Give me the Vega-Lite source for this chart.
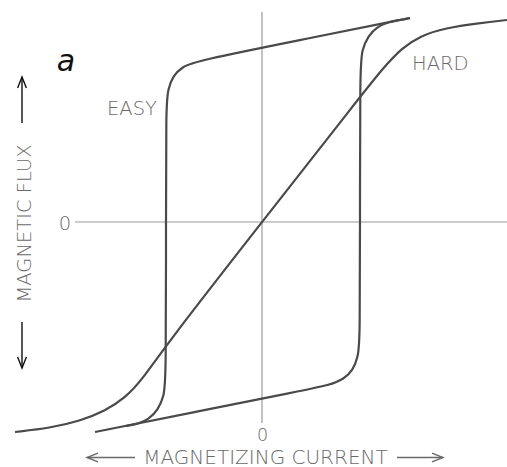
{
  "$schema": "https://vega.github.io/schema/vega-lite/v6.json",
  "width": 507,
  "height": 467,
  "autosize": {"type": "none"},
  "padding": 0,
  "background": "white",
  "config": {"view": {"stroke": null}, "axis": {"minExtent": 0, "maxExtent": 0, "domain": false, "ticks": false, "labels": false, "grid": false}},
  "datasets": {
    "curves": [
      {"branch": "easy-up", "i": 1, "current": -1.67, "flux": -2.10},
      {"branch": "easy-up", "i": 2, "current": -0.62, "flux": -1.89},
      {"branch": "easy-up", "i": 3, "current": 0.38, "flux": -1.69},
      {"branch": "easy-up", "i": 4, "current": 0.68, "flux": -1.63},
      {"branch": "easy-up", "i": 5, "current": 0.82, "flux": -1.57},
      {"branch": "easy-up", "i": 6, "current": 0.91, "flux": -1.48},
      {"branch": "easy-up", "i": 7, "current": 0.96, "flux": -1.35},
      {"branch": "easy-up", "i": 8, "current": 0.98, "flux": -1.18},
      {"branch": "easy-up", "i": 9, "current": 0.98, "flux": 0.0},
      {"branch": "easy-up", "i": 10, "current": 0.98, "flux": 1.55},
      {"branch": "easy-up", "i": 11, "current": 1.00, "flux": 1.72},
      {"branch": "easy-up", "i": 12, "current": 1.06, "flux": 1.86},
      {"branch": "easy-up", "i": 13, "current": 1.15, "flux": 1.95},
      {"branch": "easy-up", "i": 14, "current": 1.26, "flux": 2.00},
      {"branch": "easy-up", "i": 15, "current": 1.38, "flux": 2.02},
      {"branch": "easy-up", "i": 16, "current": 1.48, "flux": 2.04},
      {"branch": "easy-down", "i": 1, "current": 1.48, "flux": 2.04},
      {"branch": "easy-down", "i": 2, "current": 0.38, "flux": 1.82},
      {"branch": "easy-down", "i": 3, "current": -0.66, "flux": 1.61},
      {"branch": "easy-down", "i": 4, "current": -0.80, "flux": 1.55},
      {"branch": "easy-down", "i": 5, "current": -0.89, "flux": 1.46},
      {"branch": "easy-down", "i": 6, "current": -0.94, "flux": 1.33},
      {"branch": "easy-down", "i": 7, "current": -0.96, "flux": 1.16},
      {"branch": "easy-down", "i": 8, "current": -0.96, "flux": 0.0},
      {"branch": "easy-down", "i": 9, "current": -0.96, "flux": -1.57},
      {"branch": "easy-down", "i": 10, "current": -0.98, "flux": -1.74},
      {"branch": "easy-down", "i": 11, "current": -1.04, "flux": -1.88},
      {"branch": "easy-down", "i": 12, "current": -1.13, "flux": -1.97},
      {"branch": "easy-down", "i": 13, "current": -1.24, "flux": -2.02},
      {"branch": "easy-down", "i": 14, "current": -1.36, "flux": -2.04},
      {"branch": "hard", "i": 1, "current": -2.47, "flux": -2.10},
      {"branch": "hard", "i": 2, "current": -2.12, "flux": -2.06},
      {"branch": "hard", "i": 3, "current": -1.82, "flux": -1.99},
      {"branch": "hard", "i": 4, "current": -1.57, "flux": -1.89},
      {"branch": "hard", "i": 5, "current": -1.37, "flux": -1.76},
      {"branch": "hard", "i": 6, "current": -1.20, "flux": -1.58},
      {"branch": "hard", "i": 7, "current": -0.96, "flux": -1.23},
      {"branch": "hard", "i": 8, "current": 0.0, "flux": 0.0},
      {"branch": "hard", "i": 9, "current": 0.98, "flux": 1.25},
      {"branch": "hard", "i": 10, "current": 1.22, "flux": 1.55},
      {"branch": "hard", "i": 11, "current": 1.40, "flux": 1.74},
      {"branch": "hard", "i": 12, "current": 1.58, "flux": 1.86},
      {"branch": "hard", "i": 13, "current": 1.83, "flux": 1.94},
      {"branch": "hard", "i": 14, "current": 2.18, "flux": 1.99},
      {"branch": "hard", "i": 15, "current": 2.45, "flux": 2.02}
    ],
    "axes": [
      {"x1": 0, "x2": 0, "y1": 2.10, "y2": -2.01},
      {"x1": -1.87, "x2": 2.45, "y1": 0, "y2": 0}
    ],
    "arrows": [
      {"quantity": "current", "dir": "left", "tailX": -1.27, "tailY": -2.355, "headX": -1.75, "headY": -2.355},
      {"quantity": "current", "dir": "right", "tailX": 1.35, "tailY": -2.355, "headX": 1.81, "headY": -2.355},
      {"quantity": "flux", "dir": "up", "tailX": -2.40, "tailY": 0.99, "headX": -2.40, "headY": 1.45},
      {"quantity": "flux", "dir": "down", "tailX": -2.40, "tailY": -1.00, "headX": -2.40, "headY": -1.46}
    ],
    "curveLabels": [
      {"label": "EASY", "current": -1.55, "flux": 1.07},
      {"label": "HARD", "current": 1.50, "flux": 1.52}
    ],
    "zeroLeft": [
      {"label": "0", "current": -1.97, "flux": -0.08}
    ],
    "zeroBottom": [
      {"label": "0", "current": 0.005, "flux": -2.19}
    ],
    "panel": [
      {"label": "a", "current": -1.96, "flux": 1.51}
    ]
  },
  "layer": [
    {
      "data": {"name": "axes"},
      "mark": {"type": "rule", "color": "#9a9a9a", "strokeWidth": 1.2},
      "encoding": {
        "x": {"field": "x1", "type": "quantitative", "scale": {"domain": [-2.62, 2.45], "nice": false, "zero": false},
          "axis": {"title": "MAGNETIZING  CURRENT",
            "titleFont": "DejaVu Sans", "titleFontSize": 20, "titleFontWeight": 200, "titleColor": "#6a6a6a",
            "titleX": 265, "titleY": -4, "titleAlign": "center", "titleBaseline": "alphabetic", "titleAnchor": null}},
        "x2": {"field": "x2"},
        "y": {"field": "y1", "type": "quantitative", "scale": {"domain": [-2.45, 2.22], "nice": false, "zero": false},
          "axis": {"title": "MAGNETIC  FLUX",
            "titleFont": "DejaVu Sans", "titleFontSize": 19.5, "titleFontWeight": 200, "titleColor": "#6a6a6a",
            "titleX": 30, "titleY": 223, "titleAngle": 270, "titleAlign": "center", "titleBaseline": "alphabetic", "titleAnchor": null}},
        "y2": {"field": "y2"}
      }
    },
    {
      "data": {"name": "curves"},
      "mark": {"type": "line", "interpolate": "basis", "color": "#4a4a4a", "strokeWidth": 2.2},
      "encoding": {
        "x": {"field": "current", "type": "quantitative"},
        "y": {"field": "flux", "type": "quantitative"},
        "detail": {"field": "branch"},
        "order": {"field": "i", "type": "quantitative"}
      }
    },
    {
      "data": {"name": "arrows"},
      "mark": {"type": "rule", "strokeWidth": 1.4},
      "encoding": {
        "x": {"field": "tailX", "type": "quantitative"},
        "x2": {"field": "headX"},
        "y": {"field": "tailY", "type": "quantitative"},
        "y2": {"field": "headY"},
        "color": {"field": "quantity", "type": "nominal", "scale": {"domain": ["current", "flux"], "range": ["#6a6a6a", "#111111"]}, "legend": null}
      }
    },
    {
      "data": {"name": "arrows"},
      "mark": {"type": "point", "filled": false, "strokeWidth": 1.4, "size": 121, "opacity": 1},
      "encoding": {
        "x": {"field": "headX", "type": "quantitative"},
        "y": {"field": "headY", "type": "quantitative"},
        "color": {"field": "quantity", "type": "nominal", "legend": null},
        "shape": {"field": "dir", "type": "nominal", "legend": null,
          "scale": {"domain": ["left", "right", "up", "down"],
            "range": ["M2,-0.8L0,0L2,0.8", "M-2,-0.8L0,0L-2,0.8", "M-0.8,2L0,0L0.8,2", "M-0.8,-2L0,0L0.8,-2"]}}
      }
    },
    {
      "data": {"name": "curveLabels"},
      "mark": {"type": "text", "font": "DejaVu Sans", "fontWeight": 200, "fontSize": 19.5, "color": "#6a6a6a", "align": "left", "baseline": "alphabetic"},
      "encoding": {
        "x": {"field": "current", "type": "quantitative"},
        "y": {"field": "flux", "type": "quantitative"},
        "text": {"field": "label"}
      }
    },
    {
      "data": {"name": "zeroLeft"},
      "mark": {"type": "text", "font": "DejaVu Sans", "fontWeight": 200, "fontSize": 19.5, "color": "#6a6a6a", "align": "center", "baseline": "alphabetic"},
      "encoding": {
        "x": {"field": "current", "type": "quantitative"},
        "y": {"field": "flux", "type": "quantitative"},
        "text": {"field": "label"}
      }
    },
    {
      "data": {"name": "zeroBottom"},
      "mark": {"type": "text", "font": "DejaVu Sans", "fontWeight": 200, "fontSize": 17.5, "color": "#6a6a6a", "align": "center", "baseline": "alphabetic"},
      "encoding": {
        "x": {"field": "current", "type": "quantitative"},
        "y": {"field": "flux", "type": "quantitative"},
        "text": {"field": "label"}
      }
    },
    {
      "data": {"name": "panel"},
      "mark": {"type": "text", "font": "DejaVu Sans", "fontStyle": "italic", "fontWeight": 200, "fontSize": 30, "color": "#111111", "align": "center", "baseline": "alphabetic"},
      "encoding": {
        "x": {"field": "current", "type": "quantitative"},
        "y": {"field": "flux", "type": "quantitative"},
        "text": {"field": "label"}
      }
    }
  ]
}
